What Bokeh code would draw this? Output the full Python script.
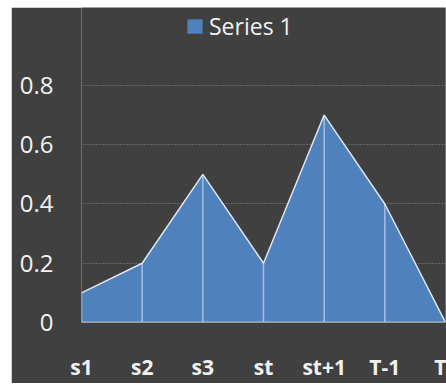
from bokeh.plotting import figure
from bokeh.models import Range1d, FixedTicker, Legend, LegendItem, Spacer, ColumnDataSource
from bokeh.layouts import row, column
from bokeh.embed import file_html
from bokeh.resources import INLINE

# Category labels and series values
categories = ["s1", "s2", "s3", "st", "st+1", "T-1", "T"]
series_1 = [0.1, 0.2, 0.5, 0.2, 0.7, 0.4, 0.0]
y_ticks = [0, 0.2, 0.4, 0.6, 0.8]
y_tick_labels = ["0", "0.2", "0.4", "0.6", "0.8"]

xs = list(range(len(categories)))
src = ColumnDataSource(dict(x=xs, y=series_1, base=[0] * len(xs)))

BG = "#404040"
FILL = "#4F81BD"
FONT = "Open Sans"

# The frame reaches up to the top of the chart so the legend sits inside it.
p = figure(width=435, height=376, output_backend="svg", toolbar_location=None,
           x_range=Range1d(0, len(categories) - 1), y_range=Range1d(0, 1.063),
           min_border_left=70, min_border_right=1, min_border_top=0, min_border_bottom=61)
p.background_fill_color = BG
p.border_fill_color = BG
p.outline_line_color = None

# Dotted horizontal gridlines at the labelled ticks (not 0, the baseline covers it)
p.hspan(y=y_ticks[1:], line_color="#8a8a8a", line_dash="1 2", line_width=1)

# Area fill, outline, drop lines and baseline
area = p.varea(x="x", y1="base", y2="y", source=src, fill_color=FILL)
p.segment(x0="x", y0="base", x1="x", y1="y", source=src, line_color="#a3bee3", line_width=1.5)
p.line(x="x", y="y", source=src, line_color="#dbe5f4", line_width=1.5)
p.line(x="x", y="base", source=src, line_color="#bfbfbf", line_width=2)

# Axes
p.xaxis.ticker = FixedTicker(ticks=xs)
p.xaxis.major_label_overrides = {i: c for i, c in enumerate(categories)}
p.xaxis.major_label_text_font = FONT
p.xaxis.major_label_text_font_style = "bold"
p.xaxis.major_label_text_font_size = "21px"
p.xaxis.major_label_text_color = "#f2f2f2"
p.xaxis.major_label_standoff = 30
p.yaxis.ticker = FixedTicker(ticks=y_ticks)
p.yaxis.major_label_overrides = dict(zip(y_ticks, y_tick_labels))
p.yaxis.major_label_text_font = FONT
p.yaxis.major_label_text_font_size = "24px"
p.yaxis.major_label_text_color = "#f2f2f2"
p.yaxis.major_label_standoff = 28
for ax in (p.xaxis, p.yaxis):
    ax.axis_line_color = None
    ax.major_tick_line_color = None
    ax.minor_tick_line_color = None
    ax.major_tick_out = 0
    ax.major_tick_in = 0
    ax.minor_tick_out = 0
    ax.minor_tick_in = 0

p.xgrid.grid_line_color = None
p.ygrid.grid_line_color = None

legend = Legend(items=[LegendItem(label="Series 1", renderers=[area])],
                location=(104, 280), orientation="horizontal",
                label_text_font=FONT, label_text_font_size="23px", label_text_color="#f2f2f2",
                glyph_width=19, glyph_height=18, label_standoff=5,
                padding=0, margin=0, border_line_color=None, background_fill_alpha=0)
p.add_layout(legend, "center")

page = row(Spacer(width=11), column(Spacer(height=7), p))
open("out.html", "w").write(file_html(page, INLINE))
